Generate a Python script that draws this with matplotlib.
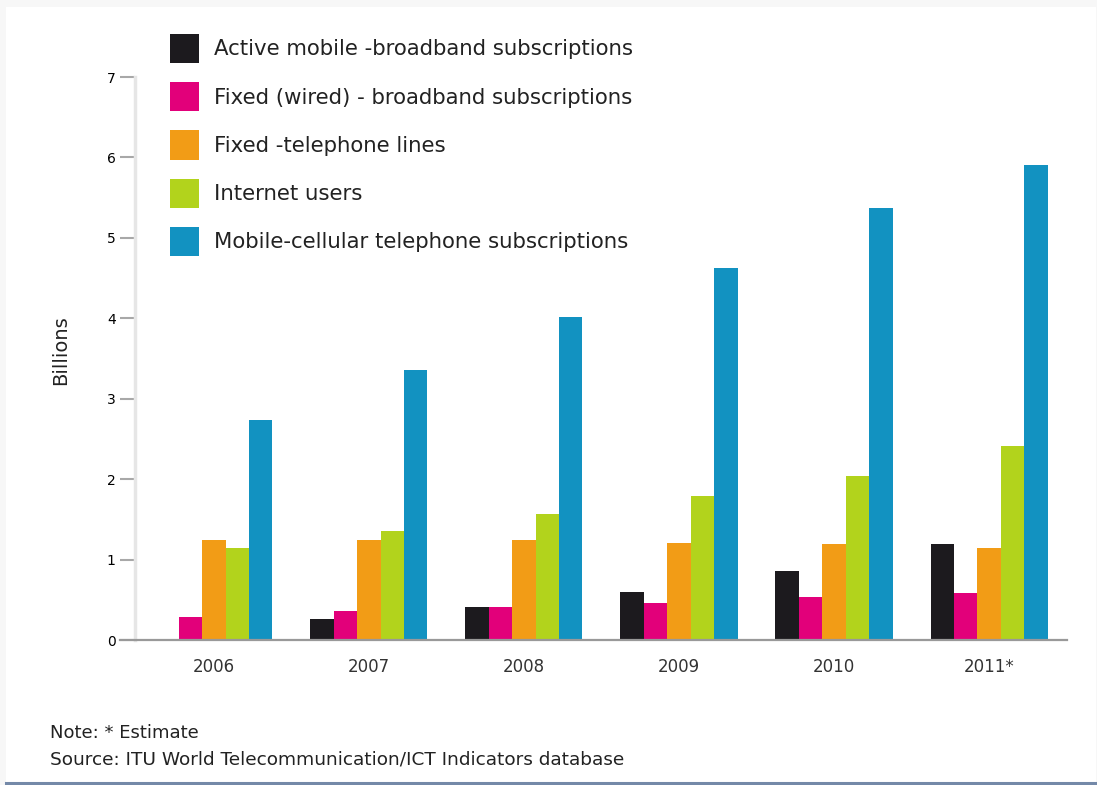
import matplotlib
matplotlib.use("Agg")
import matplotlib.pyplot as plt
import matplotlib.patches as mpatches
import numpy as np

years = ["2006", "2007", "2008", "2009", "2010", "2011*"]
series_names = [
    "Active mobile -broadband subscriptions",
    "Fixed (wired) - broadband subscriptions",
    "Fixed -telephone lines",
    "Internet users",
    "Mobile-cellular telephone subscriptions",
]
active_mobile_bb = [0.0, 0.26, 0.41, 0.60, 0.86, 1.19]
fixed_bb = [0.28, 0.36, 0.41, 0.46, 0.53, 0.58]
fixed_tel = [1.24, 1.24, 1.24, 1.20, 1.19, 1.14]
internet_users = [1.14, 1.35, 1.57, 1.79, 2.04, 2.41]
mobile_cell = [2.73, 3.36, 4.02, 4.63, 5.37, 5.91]
colors = ["#1c1a1e", "#e2007a", "#f29c16", "#b2d31c", "#1292c1"]
yticks = [0, 1, 2, 3, 4, 5, 6, 7]

plt.rcParams["font.family"] = ["DejaVu Sans"]

W, H = 1097, 785
fig = plt.figure(figsize=(W / 100, H / 100), dpi=100, facecolor="#f7f7f7")
# white page area
fig.add_artist(mpatches.Rectangle((6 / W, 0), (W - 7) / W, (H - 7) / H,
                                  transform=fig.transFigure, facecolor="white",
                                  edgecolor="none", zorder=-10))
# bottom rule
fig.add_artist(plt.Line2D([6 / W, 1.0], [2.5 / H, 2.5 / H], transform=fig.transFigure,
                          color="#7489a8", linewidth=2.2))

left, right = 120, 1067
bottom, top = 640, 77
ax = fig.add_axes([left / W, (H - bottom) / H, (right - left) / W, (bottom - top) / H])

data = [active_mobile_bb, fixed_bb, fixed_tel, internet_users, mobile_cell]
x = np.arange(len(years))
bw = 0.151
for i, (vals, c, name) in enumerate(zip(data, colors, series_names)):
    ax.bar(x + (i - 2) * bw, vals, width=bw, color=c, label=name, linewidth=0)

ax.set_xlim(-0.606, 5.503)
ax.set_ylim(0, 7)
ax.set_yticks(yticks)
ax.set_yticklabels([str(t) for t in yticks], fontsize=12, color="#333333")
ax.set_xticks(x)
ax.set_xticklabels(years, fontsize=12, color="#333333")
ax.tick_params(axis="x", length=0, pad=13)
ax.tick_params(axis="y", length=10.8, width=1.5, color="#a8a8a8", pad=3, direction="out")

for s in ["top", "right"]:
    ax.spines[s].set_visible(False)
ax.spines["left"].set_position(("data", -0.51))
ax.spines["left"].set_color("#e6e6e6")
ax.spines["left"].set_linewidth(2.5)
ax.spines["bottom"].set_color("#999999")
ax.spines["bottom"].set_linewidth(1.6)

ax.set_ylabel("Billions", fontsize=14, color="#222222")
ax.yaxis.set_label_coords(-0.053, 0.515)

fs = 15.3
leg = ax.legend(loc="upper left", bbox_to_anchor=(170 / W, 1 - 34 / H),
                bbox_transform=fig.transFigure, frameon=False, fontsize=fs,
                handlelength=1.37, handleheight=1.73, handletextpad=0.7,
                labelspacing=0.9, borderpad=0, borderaxespad=0)
for t in leg.get_texts():
    t.set_color("#222222")

fig.text(50 / W, 1 - 733 / H, "Note: * Estimate", fontsize=13, color="#222222",
         va="center", ha="left")
fig.text(50 / W, 1 - 760 / H, "Source: ITU World Telecommunication/ICT Indicators database",
         fontsize=13.3, color="#222222", va="center", ha="left")

fig.savefig("out.png", dpi=100, facecolor=fig.get_facecolor())
